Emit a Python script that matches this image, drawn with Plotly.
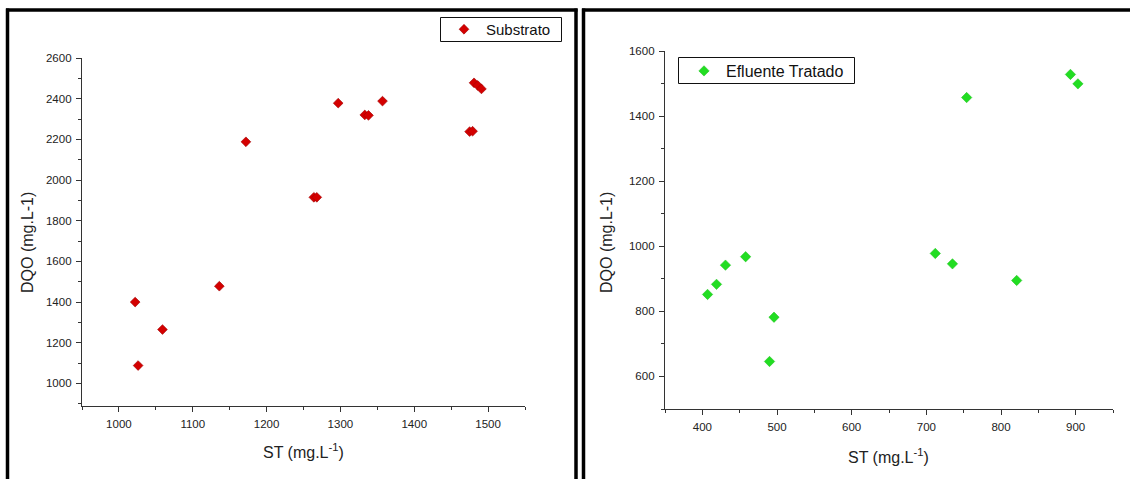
import plotly.graph_objects as go

# Left panel: Substrato
st_sub = [1022, 1026, 1059, 1136, 1172, 1264, 1268, 1297, 1333, 1338, 1357, 1475, 1479, 1481, 1486, 1491]
dqo_sub = [1400, 1088, 1265, 1478, 2188, 1915, 1915, 2378, 2320, 2318, 2388, 2238, 2240, 2478, 2465, 2448]

# Right panel: Efluente Tratado
st_eft = [407, 419, 431, 458, 490, 496, 712, 735, 754, 821, 893, 903]
dqo_eft = [852, 883, 942, 968, 646, 782, 978, 946, 1457, 895, 1528, 1499]

x_title = "ST (mg.L<sup>-1</sup>)"
y_title = "DQO (mg.L-1)"
name_sub = "Substrato"
name_eft = "Efluente Tratado"

W, H = 1130, 479


def px(x):
    return x / W


def py(y):
    return 1 - y / H


fig = go.Figure()
fig.add_trace(go.Scatter(
    x=st_sub, y=dqo_sub, mode="markers", name=name_sub,
    marker=dict(symbol="diamond", size=7.5, color="#d40000",
                line=dict(width=0.6, color="#a00000")),
    xaxis="x", yaxis="y", legend="legend"))
fig.add_trace(go.Scatter(
    x=st_eft, y=dqo_eft, mode="markers", name=name_eft,
    marker=dict(symbol="diamond", size=8, color="#22dd22",
                line=dict(width=0.5, color="#18c018")),
    xaxis="x2", yaxis="y2", legend="legend2"))

axis_common = dict(
    showline=True, linecolor="#333333", linewidth=1.3,
    ticks="outside", ticklen=5, tickwidth=1.2, tickcolor="#333333",
    showgrid=False, zeroline=False, automargin=False,
    tickfont=dict(family="Arial", size=11.5, color="#222222"),
    ticklabelstandoff=2,
    minor=dict(ticks="outside", ticklen=3, tickwidth=1.1, tickcolor="#333333", showgrid=False),
    fixedrange=True,
)

layout = dict(
    width=W, height=H, autosize=False,
    margin=dict(l=0, r=0, t=0, b=0, autoexpand=False),
    paper_bgcolor="white", plot_bgcolor="white",
    xaxis=dict(axis_common, domain=[px(82), px(525)], range=[950, 1550],
               dtick=100, minor_dtick=50, anchor="y"),
    yaxis=dict(axis_common, domain=[py(406), py(58)], range=[889, 2600],
               dtick=200, minor_dtick=100, anchor="x"),
    xaxis2=dict(axis_common, domain=[px(665), px(1113)], range=[350, 950],
                dtick=100, minor_dtick=50, anchor="y2"),
    yaxis2=dict(axis_common, domain=[py(409), py(51)], range=[500, 1600],
                dtick=200, minor_dtick=100, anchor="x2"),
    legend=dict(x=px(442), y=py(13), xanchor="left", yanchor="top",
                borderwidth=0, bgcolor="rgba(0,0,0,0)",
                font=dict(family="Arial", size=15, color="#111111"),
                itemwidth=34),
    legend2=dict(x=px(682), y=py(54), xanchor="left", yanchor="top",
                 borderwidth=0, bgcolor="rgba(0,0,0,0)",
                 font=dict(family="Arial", size=16, color="#111111"),
                 itemwidth=34),
    showlegend=True,
)
fig.update_layout(**layout)

# axis titles as annotations
ann_font = dict(family="Arial", size=16, color="#222222")
fig.add_annotation(text=x_title, x=px(303), y=py(451), xref="paper", yref="paper",
                   showarrow=False, font=ann_font, xanchor="center", yanchor="middle")
fig.add_annotation(text=x_title, x=px(888), y=py(456), xref="paper", yref="paper",
                   showarrow=False, font=ann_font, xanchor="center", yanchor="middle")
fig.add_annotation(text=y_title, x=px(27), y=py(243), xref="paper", yref="paper",
                   showarrow=False, font=ann_font, textangle=-90,
                   xanchor="center", yanchor="middle")
fig.add_annotation(text=y_title, x=px(606), y=py(243), xref="paper", yref="paper",
                   showarrow=False, font=ann_font, textangle=-90,
                   xanchor="center", yanchor="middle")

# legend boxes
box = dict(type="rect", xref="paper", yref="paper", line=dict(color="#111111", width=1),
           fillcolor="rgba(0,0,0,0)", layer="above")
fig.add_shape(box, x0=px(440.5), x1=px(561.5), y0=py(17.5), y1=py(41.5))
fig.add_shape(box, x0=px(678.5), x1=px(854.5), y0=py(57.5), y1=py(83.5))

# panel frames
frame = dict(type="line", xref="paper", yref="paper", line=dict(color="#000000", width=3.5))
fig.add_shape(frame, x0=px(7.5), x1=px(7.5), y0=py(8.5), y1=py(485))
fig.add_shape(frame, x0=px(6), x1=px(577.5), y0=py(10), y1=py(10))
fig.add_shape(frame, x0=px(576), x1=px(576), y0=py(8.5), y1=py(485))
fig.add_shape(frame, x0=px(583.5), x1=px(583.5), y0=py(8.5), y1=py(485))
fig.add_shape(frame, x0=px(582), x1=px(1135), y0=py(10), y1=py(10))

fig.write_html("out.html", config={"displayModeBar": False},
               post_script="document.body.style.margin='0';document.body.style.overflow='hidden';")
